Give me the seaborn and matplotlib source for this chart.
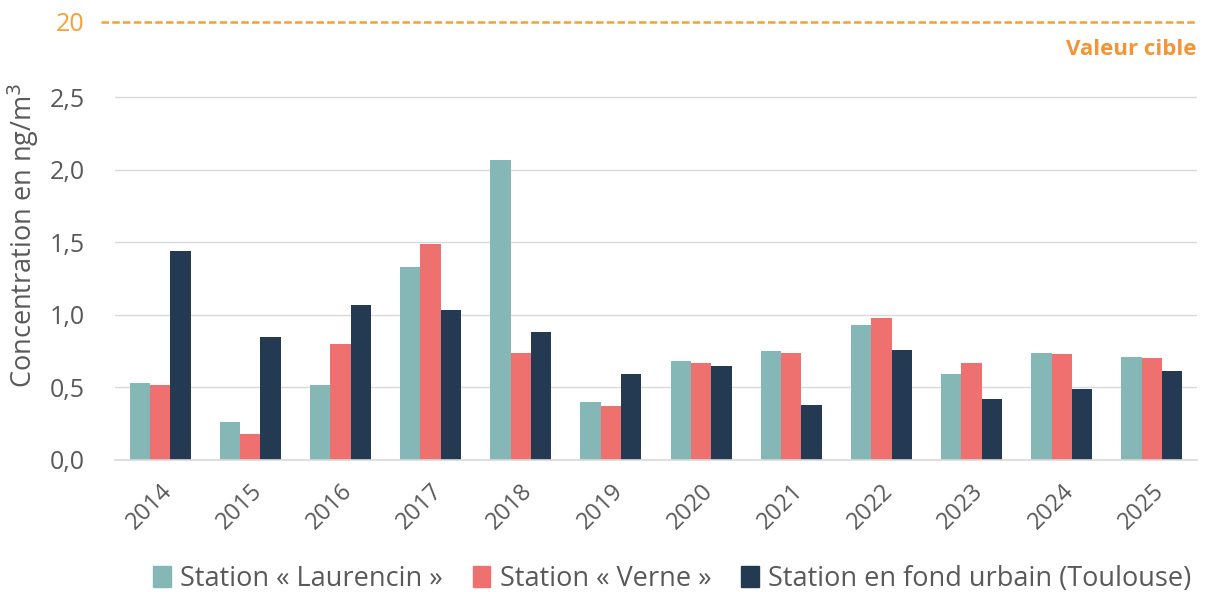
import pandas as pd
import numpy as np
import matplotlib
matplotlib.use("Agg")
import matplotlib.pyplot as plt
import matplotlib.transforms as mtransforms
import seaborn as sns

# Données (ng/m3)
annees = ['2014', '2015', '2016', '2017', '2018', '2019', '2020', '2021', '2022', '2023', '2024', '2025']
laurencin = [0.53, 0.26, 0.52, 1.33, 2.07, 0.40, 0.68, 0.75, 0.93, 0.59, 0.74, 0.71]
verne = [0.52, 0.18, 0.80, 1.49, 0.74, 0.37, 0.67, 0.74, 0.98, 0.67, 0.73, 0.70]
toulouse = [1.44, 0.85, 1.07, 1.03, 0.88, 0.59, 0.65, 0.38, 0.76, 0.42, 0.49, 0.61]
stations = ['Station « Laurencin »', 'Station « Verne »', 'Station en fond urbain (Toulouse)']
couleurs = ['#84B7B6', '#EE7170', '#243A52']
valeur_cible = 20
yticks = [0.0, 0.5, 1.0, 1.5, 2.0, 2.5]

# tableau long pour seaborn
df = pd.DataFrame({
    'annee': annees * 3,
    'station': [stations[0]] * 12 + [stations[1]] * 12 + [stations[2]] * 12,
    'valeur': laurencin + verne + toulouse,
})

sns.set_theme(style="white")
plt.rcParams['font.family'] = ['Open Sans', 'DejaVu Sans']
gris = '#595959'
orange = '#F7A030'

fig = plt.figure(figsize=(12.07, 5.92), dpi=100)
ax = fig.add_axes([0.0953, 0.223, 0.8964, 0.760])

sns.barplot(data=df, x='annee', y='valeur', hue='station', palette=couleurs,
            width=0.675, saturation=1, linewidth=0, ax=ax, legend=False)

# position de la ligne "20" (axe coupé)
y20 = 3.02
ax.set_ylim(0, 3.1)
ax.set_yticks(yticks + [y20])
ax.set_yticklabels([f"{v:.1f}".replace('.', ',') for v in yticks] + [str(valeur_cible)])
for v in yticks[1:]:
    ax.axhline(v, color='#D9D9D9', lw=1, zorder=0)
trans = mtransforms.blended_transform_factory(ax.transAxes, ax.transData)
ax.plot([-0.013, 1.0], [y20, y20], transform=trans, color=orange, lw=1.8,
        ls=(0, (3, 1.3)), zorder=3, clip_on=False)
ax.text(1.0, 2.83, 'Valeur cible', transform=trans, ha='right', va='center',
        color='#F39436', fontsize=16, fontweight='bold')

ax.set_xlim(-0.5, 11.5)
ax.set_xlabel('')
ax.set_ylabel('Concentration en ng/m$^3$', fontsize=19.5, color=gris, labelpad=6)
for s in ['top', 'right', 'left']:
    ax.spines[s].set_visible(False)
ax.spines['bottom'].set_color('#D9D9D9')
ax.spines['bottom'].set_linewidth(1.2)

ax.tick_params(axis='y', length=0, labelsize=18, labelcolor=gris, pad=22)
ax.tick_params(axis='x', which='major', length=0, labelsize=17, labelcolor=gris, pad=14)
ax.set_xticks(np.arange(-0.5, 12, 1), minor=True)
ax.tick_params(axis='x', which='minor', length=9, color='#D9D9D9', width=1.2)
plt.setp(ax.get_xticklabels(), rotation=45, ha='right', rotation_mode='anchor')
ax.get_yticklabels()[-1].set_color(orange)

handles = [plt.Rectangle((0, 0), 1, 1, color=c) for c in couleurs]
fig.legend(handles, stations, loc='center', bbox_to_anchor=(0.557, 0.022), ncol=3,
           frameon=False, fontsize=19.5, labelcolor=gris, handlelength=0.65,
           handleheight=0.85, handletextpad=0.35, columnspacing=1.1)

fig.savefig('out.png', dpi=100)
